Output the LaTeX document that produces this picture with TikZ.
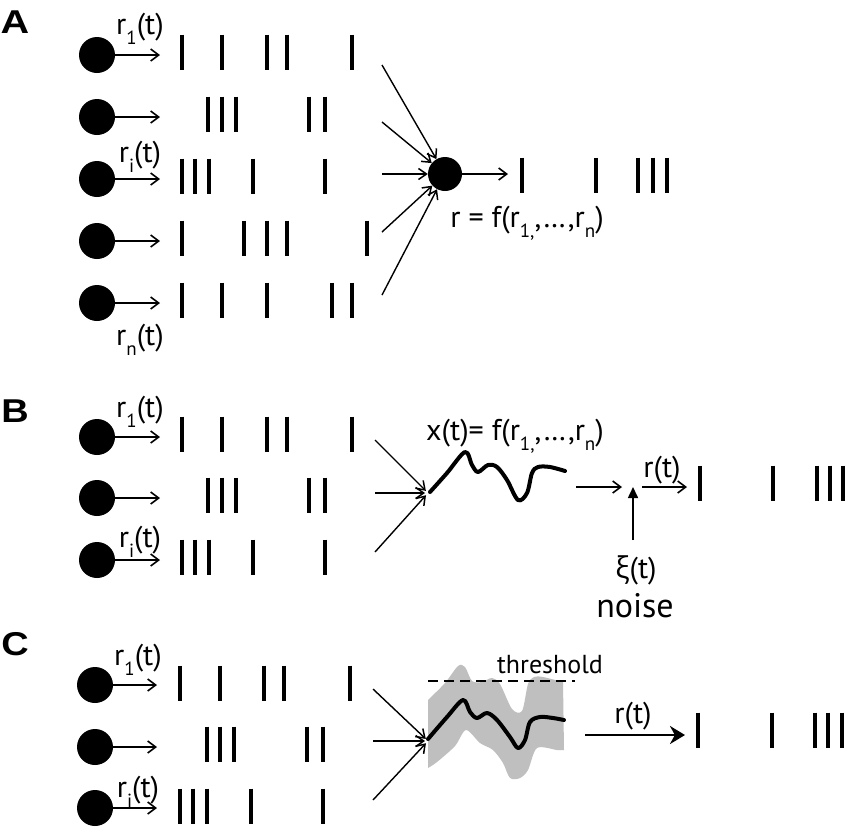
\documentclass[tikz,border=0pt]{standalone}
\usepackage{fontspec}
\setmainfont{PT Sans}
\newfontfamily\grk{Open Sans}
\newfontfamily\labfont{Liberation Sans}
\usetikzlibrary{arrows.meta}
\newcommand\sbs[1]{\raisebox{-0.36em}{\fontsize{19}{19}\selectfont #1}}
\newcommand\spk[2]{\foreach \xx in {#2} {\draw[spike] (\xx,{#1-17.5}) -- (\xx,{#1+17.5});}}
\begin{document}
\begin{tikzpicture}[x=1pt,y=-1pt,
  neuron/.style={circle,fill=black,minimum size=36pt,inner sep=0pt},
  spike/.style={line width=4pt},
  axon/.style={line width=1.6pt,-{Straight Barb[length=8pt,width=12pt,line width=1.6pt]}},
  conv/.style={line width=1.4pt,-{Straight Barb[length=8pt,width=11pt,line width=1.5pt]}},
  noisear/.style={line width=1.6pt,-{Triangle[length=11pt,width=10pt]}},
  bigar/.style={line width=2.6pt,-{Stealth[length=15pt,width=18pt]}},
  wave/.style={line width=4pt,line cap=round,line join=round},
  lbl/.style={font=\fontsize{30}{34}\selectfont,inner sep=0pt,anchor=base},
  small/.style={font=\fontsize{26}{30}\selectfont,inner sep=0pt,anchor=base},
  panel/.style={font=\labfont\bfseries\fontsize{33}{34}\selectfont,inner sep=0pt}
]
\useasboundingbox[fill=white] (0,0) rectangle (850,831);

% ---------------- Panel A ----------------
\node[panel] (pA) at (15,22) {\scalebox{1.2}[1]{A}};
\foreach \i/\y in {1/55,2/117,3/179,4/241,5/303} {
  \node[neuron] (a\i) at (97,\y) {};
  \coordinate (a\i e) at (160,\y);
  \draw[axon] (a\i) -- (a\i e);
}
\node[lbl] (la1) at (140,34) {r\sbs{1}(t)};
\node[lbl] (lai) at (140,162) {r\sbs{i}(t)};
\node[lbl] (lan) at (140,345) {r\sbs{n}(t)};
\spk{52}{182,222,267,287,352}
\spk{114}{208,222,236,309,325}
\spk{176}{182,195,209,253,325}
\spk{238}{182,244,267,287,367}
\spk{300}{182,222,267,332,352}
\node[neuron,minimum size=34pt] (post) at (445,174) {};
\foreach \i/\y in {1/65,2/122,3/174,4/232,5/295} {
  \coordinate (sA\i) at (382,\y);
  \draw[conv] (sA\i) -- (post);
}
\coordinate (postE) at (508,174);
\draw[axon] (post) -- (postE);
\spk{175}{522,596,638,653,667}
\node[lbl] (fA) at (527,227) {r = f(r\sbs{1,},…,r\sbs{n})};

% ---------------- Panel B ----------------
\node[panel] (pB) at (15,411) {\scalebox{1.15}[1]{B}};
\foreach \i/\y in {1/437,2/498,3/560} {
  \node[neuron] (b\i) at (97,\y) {};
  \coordinate (b\i e) at (160,\y);
  \draw[axon] (b\i) -- (b\i e);
}
\node[lbl] (lb1) at (140,417) {r\sbs{1}(t)};
\node[lbl] (lbi) at (140,547) {r\sbs{i}(t)};
\spk{434}{182,222,267,287,352}
\spk{495}{208,222,236,309,325}
\spk{557}{182,195,209,253,325}
\coordinate (bx) at (428,493);
\foreach \i/\y in {1/440,2/493,3/552} {
  \coordinate (sB\i) at (375,\y);
  \draw[conv,shorten >=3pt] (sB\i) -- (bx);
}
\draw[wave] plot[smooth,tension=0.55] coordinates {(430,492) (447,473) (465,452) (472,465) (478,472) (488,465) (497,467) (507,480) (518,500) (527,493) (532,473) (538,467) (550,467) (565,471)};
\node[lbl] (fB) at (515,440) {x(t)= f(r\sbs{1,},…,r\sbs{n})};
\coordinate (bm1) at (576,487);
\coordinate (bm2) at (622,487);
\draw[axon] (bm1) -- (bm2);
\coordinate (nz) at (633,487);
\coordinate (nzb) at (633,540);
\draw[noisear] (nzb) -- (nz);
\coordinate (br1) at (642,487);
\coordinate (br2) at (687,487);
\draw[axon] (br1) -- (br2);
\node[lbl] (rtB) at (662,477) {r(t)};
\spk{483}{700,773,817,830,843}
\node[lbl] (xi) at (636,578) {{\grk ξ}(t)};
\node[lbl,font=\fontsize{34}{36}\selectfont] (noise) at (635,617) {noise};

% ---------------- Panel C ----------------
\node[panel] (pC) at (15,644) {\scalebox{1.15}[1]{C}};
\foreach \i/\y in {1/685,2/747,3/808} {
  \node[neuron] (c\i) at (95,\y) {};
  \coordinate (c\i e) at (157,\y);
  \draw[axon] (c\i) -- (c\i e);
}
\node[lbl] (lc1) at (138,665) {r\sbs{1}(t)};
\node[lbl] (lci) at (138,797) {r\sbs{i}(t)};
\spk{683}{180,220,264,284,350}
\spk{744}{207,220,234,307,323}
\spk{806}{180,193,207,251,323}
\fill[black!25] plot[smooth,tension=0.5] coordinates {(428,700) (445,683) (458,666) (465,667) (472,681) (482,682) (492,678) (500,684) (512,709) (522,711) (528,684) (534,677) (543,677) (563,682)}
  -- plot[smooth,tension=0.5] coordinates {(564,750) (557,750) (537,748) (528,770) (520,778) (510,778) (503,763) (493,750) (480,743) (466,730) (455,746) (437,762) (428,768)} -- cycle;
\draw[line width=1.8pt,dash pattern=on 10pt off 6pt] (428,681) -- (575,681);
\node[small] (thr) at (550,673) {threshold};
\draw[wave] plot[smooth,tension=0.55] coordinates {(428,739) (447,717) (463,700) (470,712) (477,718) (487,713) (497,720) (510,737) (518,748) (525,740) (530,722) (540,717) (553,718) (564,720)};
\coordinate (cx) at (428,741);
\foreach \i/\y in {1/689,2/741,3/800} {
  \coordinate (sC\i) at (373,\y);
  \draw[conv,shorten >=3pt] (sC\i) -- (cx);
}
\coordinate (cr1) at (585,735);
\coordinate (cr2) at (685,735);
\draw[bigar] (cr1) -- (cr2);
\node[lbl] (rtC) at (633,723) {r(t)};
\spk{730}{698,772,815,828,842}
\end{tikzpicture}
\end{document}
